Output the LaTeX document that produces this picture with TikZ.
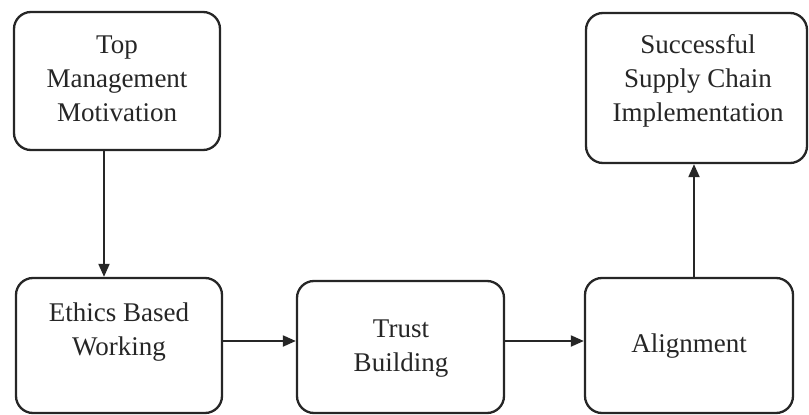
\documentclass[tikz,border=0pt]{standalone}
\usepackage{fontspec}
\setmainfont{Liberation Serif}
\usetikzlibrary{arrows.meta}
\begin{document}
\begin{tikzpicture}[x=1pt,y=-1pt,
  box/.style={draw=black!85, line width=2.3pt, rounded corners=17pt, fill=white},
  txt/.style={align=center, inner sep=0pt, text=black!85, font=\fontsize{27}{34}\selectfont},
  conn/.style={draw=black!85, line width=2pt, -{Triangle[length=13pt,width=11pt]}}]
\useasboundingbox (0,0) rectangle (809,415);
% boxes
\node[box, minimum width=206pt, minimum height=138pt] (top) at (117,81) {};
\node[box, minimum width=206pt, minimum height=135pt] (eth) at (119,345.5) {};
\node[box, minimum width=207pt, minimum height=132pt] (tru) at (400.5,347) {};
\node[box, minimum width=208pt, minimum height=135pt] (ali) at (689,345.5) {};
\node[box, minimum width=221pt, minimum height=150pt] (suc) at (696.5,88) {};
% texts
\node[txt] (toptxt) at (117,79) {Top\\Management\\Motivation};
\node[txt] (ethtxt) at (119,332) {Ethics Based\\Working};
\node[txt] (trutxt) at (401,349) {Trust\\Building};
\node[txt] (alitxt) at (689,346) {Alignment};
\node[txt] (suctxt) at (698,81) {Successful\\Supply Chain\\Implementation};
% connectors
\draw[conn] (top.south -| 104,0) -- (eth.north -| 104,0);
\draw[conn] (eth.east |- 0,341) -- (tru.west |- 0,341);
\draw[conn] (tru.east |- 0,341) -- (ali.west |- 0,341);
\draw[conn] (ali.north -| 694,0) -- (suc.south -| 694,0);
\end{tikzpicture}
\end{document}
